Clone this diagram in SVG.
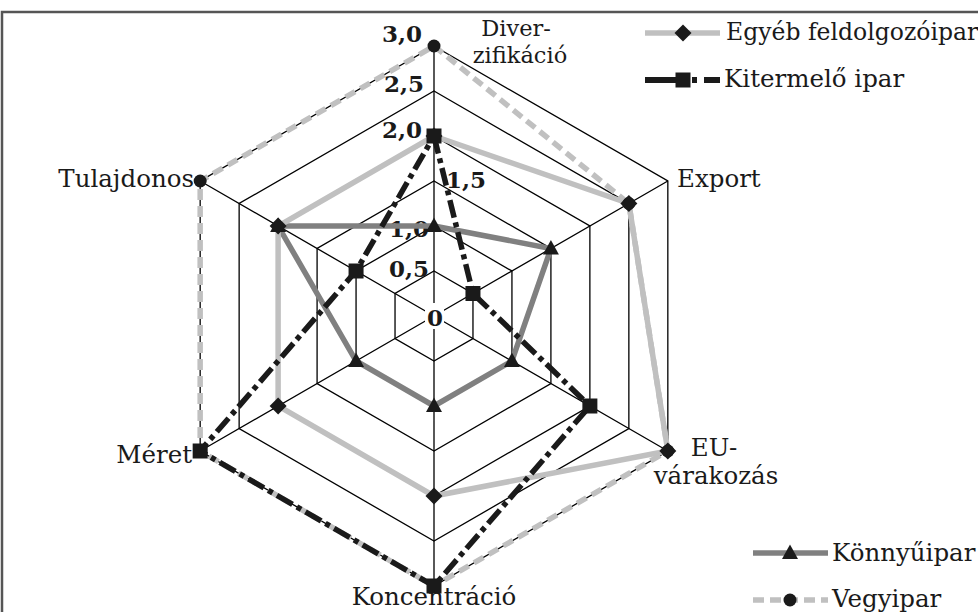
<svg xmlns="http://www.w3.org/2000/svg" width="978" height="612" viewBox="0 0 978 612">
<style>
.grid{fill:none;stroke:#000;stroke-width:1.3}
.lbl{font-family:"DejaVu Serif","Liberation Serif",serif;font-size:24.5px;fill:#1a1a1a}
.lbs{font-family:"DejaVu Serif","Liberation Serif",serif;font-size:22.5px;fill:#1a1a1a}
.num{font-family:"DejaVu Serif","Liberation Serif",serif;font-size:23px;font-weight:bold;fill:#1a1a1a}
.egyeb{fill:none;stroke:#c0c0c0;stroke-width:5.5;stroke-linejoin:miter}
.konnyu{fill:none;stroke:#808080;stroke-width:5.5;stroke-linejoin:miter}
.kiterm{fill:none;stroke:#1a1a1a;stroke-width:5.5;stroke-dasharray:18 5 5 5}
.vegy{fill:none;stroke:#c0c0c0;stroke-width:5.5;stroke-dasharray:11 6}
.mk{fill:#1a1a1a}
</style>
<defs>
<path id="dia" d="M0,-8.5 L8.5,0 L0,8.5 L-8.5,0 Z" class="mk"/>
<rect id="sq" x="-7.5" y="-7.5" width="15" height="15" class="mk"/>
<path id="tri" d="M0,-8.5 L8,6 L-8,6 Z" class="mk"/>
<circle id="dot" r="6.5" class="mk"/>
</defs>
<rect width="978" height="612" fill="#fff"/>
<path d="M2,612 V12 H978" fill="none" stroke="#555" stroke-width="2.5"/>
<g id="grid" class="grid">
<polygon points="434,271 472.97,293.5 472.97,338.5 434,361 395.03,338.5 395.03,293.5"/>
<polygon points="434,226 511.94,271 511.94,361 434,406 356.06,361 356.06,271"/>
<polygon points="434,181 550.91,248.5 550.91,383.5 434,451 317.09,383.5 317.09,248.5"/>
<polygon points="434,136 589.88,226 589.88,406 434,496 278.12,406 278.12,226"/>
<polygon points="434,91 628.86,203.5 628.86,428.5 434,541 239.14,428.5 239.14,203.5"/>
<polygon points="434,46 667.83,181 667.83,451 434,586 200.17,451 200.17,181"/>
<path d="M434,316 L434,46 M434,316 L667.83,181 M434,316 L667.83,451 M434,316 L434,586 M434,316 L200.17,451 M434,316 L200.17,181"/>
</g>
<g id="scale">
<rect x="425" y="303" width="19" height="26" fill="#fff"/>
<text class="num" x="422" y="42" text-anchor="end">3,0</text>
<text class="num" x="424" y="92" text-anchor="end">2,5</text>
<text class="num" x="422" y="138" text-anchor="end">2,0</text>
<text class="num" x="446" y="188">1,5</text>
<text class="num" x="429" y="237" text-anchor="end">1,0</text>
<text class="num" x="429" y="277" text-anchor="end">0,5</text>
<text class="num" x="435" y="326" text-anchor="middle">0</text>
</g>
<g id="connectors">
<polygon class="vegy" points="434,46 628.86,203.5 667.83,451 434,586 200.17,451 200.17,181"/>
<polygon class="konnyu" points="434,226 550.91,248.5 511.94,361 434,406 356.06,361 278.12,226"/>
<polygon class="egyeb" points="434,136 628.86,203.5 667.83,451 434,496 278.12,406 278.12,226"/>
<polygon class="kiterm" points="434,136 472.97,293.5 589.88,406 434,586 200.17,451 356.06,271"/>
</g>
<g id="series-vegyipar">
<use href="#dot" x="434" y="46"/><use href="#dot" x="628.86" y="203.5"/><use href="#dot" x="667.83" y="451"/><use href="#dot" x="434" y="586"/><use href="#dot" x="200.17" y="451"/><use href="#dot" x="200.17" y="181"/>
</g>
<g id="series-konnyuipar">
<use href="#tri" x="434" y="226"/><use href="#tri" x="550.91" y="248.5"/><use href="#tri" x="511.94" y="361"/><use href="#tri" x="434" y="406"/><use href="#tri" x="356.06" y="361"/><use href="#tri" x="278.12" y="226"/>
</g>
<g id="series-egyeb">
<use href="#dia" x="434" y="136"/><use href="#dia" x="628.86" y="203.5"/><use href="#dia" x="667.83" y="451"/><use href="#dia" x="434" y="496"/><use href="#dia" x="278.12" y="406"/><use href="#dia" x="278.12" y="226"/>
</g>
<g id="series-kitermelo">
<use href="#sq" x="434" y="136"/><use href="#sq" x="472.97" y="293.5"/><use href="#sq" x="589.88" y="406"/><use href="#sq" x="434" y="586"/><use href="#sq" x="200.17" y="451"/><use href="#sq" x="356.06" y="271"/>
</g>
<g id="axis-labels">
<text class="lbs" x="516" y="36" text-anchor="middle">Diver-</text>
<text class="lbs" x="520" y="63" text-anchor="middle">zifikáció</text>
<text class="lbl" x="677" y="187">Export</text>
<text class="lbl" x="714" y="456" text-anchor="middle">EU-</text>
<text class="lbl" x="716" y="484" text-anchor="middle">várakozás</text>
<text class="lbl" x="434" y="605" text-anchor="middle">Koncentráció</text>
<text class="lbl" x="192" y="463" text-anchor="end">Méret</text>
<text class="lbl" x="194" y="187" text-anchor="end">Tulajdonos</text>
</g>
<g id="legend-egyeb">
<line x1="645" y1="33" x2="720" y2="33" stroke="#c0c0c0" stroke-width="5.5"/>
<use href="#dia" x="683" y="33"/>
<text class="lbl" x="726" y="40" style="font-size:23.5px">Egyéb feldolgozóipar</text>
</g>
<g id="legend-kitermelo">
<line x1="645" y1="80" x2="680" y2="80" stroke="#1a1a1a" stroke-width="6"/>
<use href="#sq" x="683" y="80"/>
<line x1="692" y1="80" x2="697" y2="80" stroke="#1a1a1a" stroke-width="6"/>
<line x1="704" y1="80" x2="720" y2="80" stroke="#1a1a1a" stroke-width="6"/>
<text class="lbl" x="724" y="87">Kitermelő ipar</text>
</g>
<g id="legend-konnyuipar">
<line x1="753" y1="553" x2="828" y2="553" stroke="#808080" stroke-width="5.5"/>
<use href="#tri" x="790" y="553"/>
<text class="lbl" x="832" y="561">Könnyűipar</text>
</g>
<g id="legend-vegyipar">
<line x1="753" y1="600" x2="828" y2="600" stroke="#c0c0c0" stroke-width="5.5" stroke-dasharray="11 6"/>
<use href="#dot" x="790" y="600"/>
<text class="lbl" x="832" y="607">Vegyipar</text>
</g>
</svg>
